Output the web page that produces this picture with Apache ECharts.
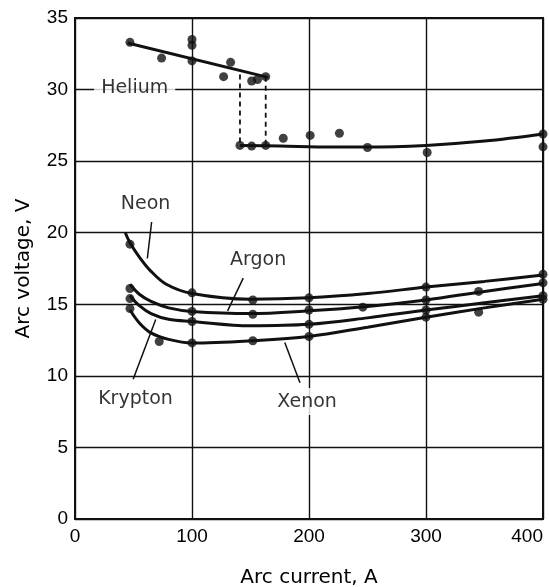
<!DOCTYPE html>
<html>
<head>
<meta charset="utf-8">
<script src="https://cdn.jsdelivr.net/npm/echarts/dist/echarts.min.js"></script>
<style>
html,body{margin:0;padding:0;background:#fff;}
#chart{width:549px;height:587px;}
</style>
</head>
<body>
<div id="chart"></div>
<script>
// ---- Data ----
var xTicks = [0, 100, 200, 300, 400];
var yTicks = [0, 5, 10, 15, 20, 25, 30, 35];

var heliumHighLine = [[45, 33.25], [165, 30.85]];
var heliumLowLine = [[141, 26.1], [175, 26.05], [220, 25.98], [250, 25.98], [300, 26.1], [350, 26.4], [400, 26.9]];
var heliumJumpA = [[141, 31.05], [141, 26.1]];
var heliumJumpB = [[163, 30.9], [163, 26.1]];
var heliumDots = [[47, 33.3], [74, 32.2], [100, 33.5], [100, 33.1], [100, 32.0], [127, 30.9], [133, 31.9],
                  [151, 30.6], [156, 30.7], [163, 30.9],
                  [141, 26.1], [151, 26.05], [163, 26.1], [178, 26.6], [201, 26.8], [226, 26.95],
                  [250, 25.95], [301, 25.6], [400, 26.9], [400, 26.0]];

var neonLine = [[43, 20.0], [47, 19.3], [55, 18.3], [65, 17.3], [78, 16.4], [100, 15.75], [150, 15.35],
                [200, 15.45], [250, 15.75], [300, 16.2], [350, 16.6], [400, 17.05]];
var argonLine = [[47, 16.4], [55, 15.7], [65, 15.2], [80, 14.75], [100, 14.5], [150, 14.35], [200, 14.55],
                 [250, 14.85], [300, 15.3], [350, 15.9], [400, 16.45]];
var kryptonLine = [[47, 15.6], [55, 14.9], [65, 14.35], [80, 13.95], [100, 13.8], [150, 13.5], [200, 13.6],
                   [250, 14.05], [300, 14.6], [350, 15.1], [400, 15.6]];
var xenonLine = [[47, 14.6], [55, 13.7], [65, 13.0], [80, 12.55], [100, 12.3], [150, 12.45], [200, 12.75],
                 [250, 13.4], [300, 14.1], [350, 14.75], [400, 15.35]];

var neonDots = [[47, 19.2], [100, 15.8], [152, 15.3], [200, 15.45], [300, 16.2], [400, 17.1]];
var argonDots = [[47, 16.1], [100, 14.5], [152, 14.3], [200, 14.6], [246, 14.8], [300, 15.3], [345, 15.9], [400, 16.5]];
var kryptonDots = [[47, 15.4], [100, 13.8], [200, 13.6], [300, 14.6], [400, 15.6]];
var xenonDots = [[47, 14.7], [72, 12.4], [100, 12.3], [152, 12.45], [200, 12.75], [300, 14.1], [345, 14.45], [400, 15.35]];

var gasNames = ['Helium', 'Neon', 'Argon', 'Krypton', 'Xenon'];
var gasLabelPos = [[51, 30.1], [60.3, 22.0], [156.5, 18.1], [51.7, 8.4], [198.4, 8.2]];
var leaderNeon = [[65.5, 20.75], [61.8, 18.2]];
var leaderArgon = [[143.8, 16.83], [130.4, 14.54]];
var leaderKrypton = [[49.7, 9.76], [69, 13.93]];
var leaderXenon = [[192.3, 9.52], [179.3, 12.33]];

var xTitle = 'Arc current, A';
var yTitle = 'Arc voltage, V';

// ---- Chart ----
var INK = '#000';
var FONT = "'DejaVu Sans', 'Liberation Sans', Arial, sans-serif";
var NUMFONT = "'Liberation Sans', Arial, Helvetica, sans-serif";
var chart = echarts.init(document.getElementById('chart'), null, {renderer: 'canvas'});

function curve(data) {
  return {type: 'line', data: data, smooth: 0.35, symbol: 'none', silent: true, z: 3,
          lineStyle: {color: '#111', width: 3}};
}
function straight(data, w, dash) {
  return {type: 'line', data: data, smooth: false, symbol: 'none', silent: true, z: 3,
          lineStyle: {color: '#111', width: w, type: dash ? [5, 4] : 'solid'}};
}
function dots(data) {
  return {type: 'scatter', data: data, symbol: 'circle', symbolSize: 9, silent: true, z: 4,
          itemStyle: {color: '#111'}};
}

var labelData = gasNames.map(function (n, i) {
  var item = {name: n, value: gasLabelPos[i]};
  if (n === 'Helium') item.label = {padding: [2, 7, 1, 7]};
  if (n === 'Xenon') item.label = {padding: [4, 6, 4, 6]};
  return item;
});

var option = {
  animation: false,
  backgroundColor: '#fff',
  textStyle: {fontFamily: FONT},
  grid: {left: 75, right: 6, top: 18, bottom: 68, show: true, borderColor: '#111', borderWidth: 2,
         backgroundColor: 'transparent', containLabel: false, outerBoundsMode: 'none'},
  xAxis: {
    type: 'value', min: xTicks[0], max: xTicks[xTicks.length - 1], interval: 100,
    name: xTitle, nameLocation: 'middle', nameGap: 49,
    nameTextStyle: {fontSize: 20, color: INK, fontFamily: FONT},
    axisLine: {show: true, lineStyle: {color: '#111', width: 2}},
    axisTick: {show: false},
    axisLabel: {fontSize: 19, color: INK, margin: 8, fontFamily: NUMFONT, alignMaxLabel: 'right'},
    splitLine: {show: true, lineStyle: {color: '#111', width: 1.4}}
  },
  yAxis: {
    type: 'value', min: yTicks[0], max: yTicks[yTicks.length - 1], interval: 5,
    name: yTitle, nameLocation: 'middle', nameGap: 41,
    nameTextStyle: {fontSize: 20, color: INK, fontFamily: FONT},
    axisLine: {show: true, lineStyle: {color: '#111', width: 2}},
    axisTick: {show: false},
    axisLabel: {fontSize: 19, color: INK, margin: 7, fontFamily: NUMFONT},
    splitLine: {show: true, lineStyle: {color: '#111', width: 1.4}}
  },
  series: [
    straight(heliumHighLine, 3, false),
    curve(heliumLowLine),
    straight(heliumJumpA, 1.8, true),
    straight(heliumJumpB, 1.8, true),
    dots(heliumDots),
    curve(neonLine),
    curve(argonLine),
    curve(kryptonLine),
    curve(xenonLine),
    dots(neonDots),
    dots(argonDots),
    dots(kryptonDots),
    dots(xenonDots),
    straight(leaderNeon, 1.5, false),
    straight(leaderArgon, 1.5, false),
    straight(leaderKrypton, 1.5, false),
    straight(leaderXenon, 1.5, false),
    {
      type: 'scatter', data: labelData, symbol: 'circle', symbolSize: 1, silent: true, z: 5,
      itemStyle: {color: 'rgba(0,0,0,0)'},
      label: {show: true, position: 'inside', formatter: '{b}', fontSize: 19, color: INK,
              fontFamily: FONT, backgroundColor: '#fff', padding: [1, 3]}
    }
  ]
};
chart.setOption(option);
</script>
</body>
</html>
